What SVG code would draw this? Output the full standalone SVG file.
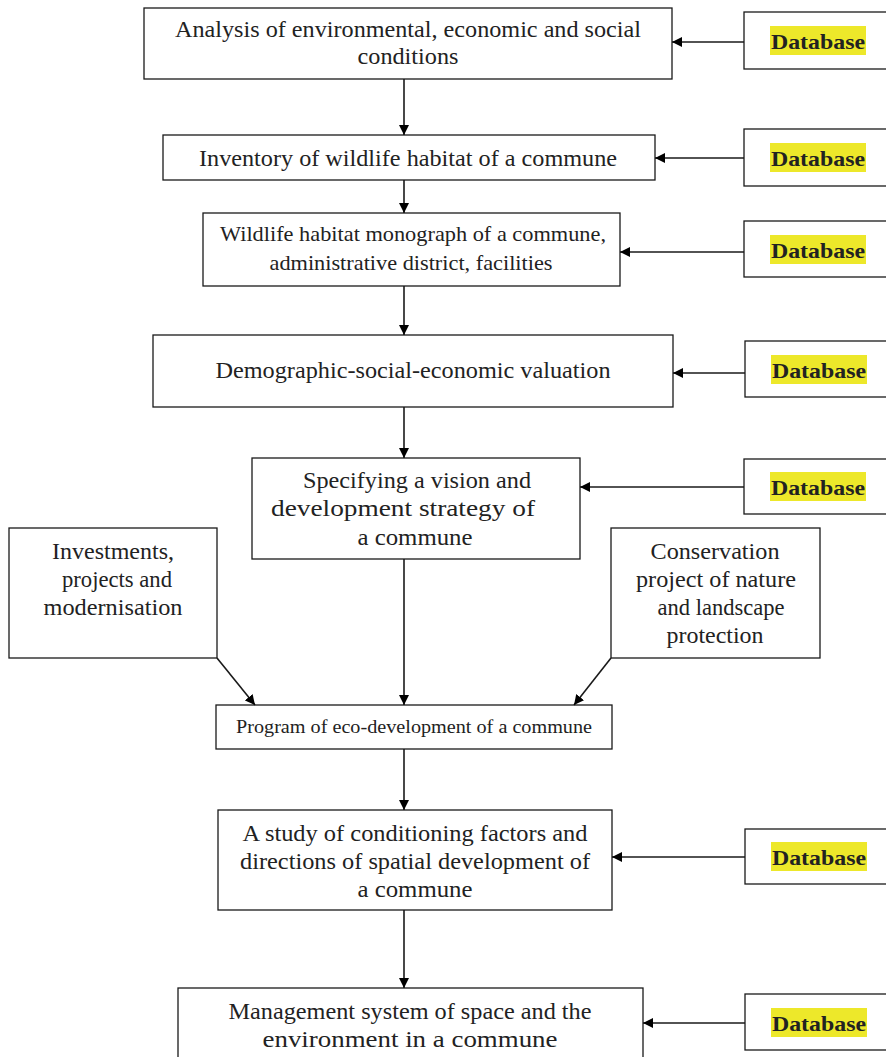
<svg xmlns="http://www.w3.org/2000/svg" width="886" height="1057" viewBox="0 0 886 1057">
<defs>
<marker id="ah" viewBox="0 0 10 10" refX="10" refY="5" markerWidth="10" markerHeight="10" markerUnits="userSpaceOnUse" orient="auto">
<path d="M0,0 L10,5 L0,10 z" fill="#000"/>
</marker>
<style>
.box{fill:#fff;stroke:#1a1a1a;stroke-width:1.3}
.t{font-family:"Liberation Serif","Times New Roman",serif;font-size:24px;fill:#222;text-anchor:middle}
.s{font-size:22px}
.xs{font-size:18px}
.db{font-family:"Liberation Serif","Times New Roman",serif;font-size:22px;font-weight:bold;fill:#222;text-anchor:middle}
.hl{fill:#ede82a}
.c{stroke:#1a1a1a;stroke-width:1.6;fill:none;marker-end:url(#ah)}
</style>
</defs>
<rect width="886" height="1057" fill="#fff"/>
<g id="n1"><rect class="box" x="144" y="8" width="528" height="71"/>
<text class="t" x="408" y="37" textLength="466" lengthAdjust="spacingAndGlyphs">Analysis of environmental, economic and social</text>
<text class="t" x="408" y="64" textLength="101" lengthAdjust="spacingAndGlyphs">conditions</text></g>
<g id="n2"><rect class="box" x="163" y="135" width="492" height="45"/>
<text class="t" x="408" y="166" textLength="418" lengthAdjust="spacingAndGlyphs">Inventory of wildlife habitat of a commune</text></g>
<g id="n3"><rect class="box" x="203" y="213" width="417" height="73"/>
<text class="t s" x="413" y="241" textLength="386" lengthAdjust="spacingAndGlyphs">Wildlife habitat monograph of a commune,</text>
<text class="t s" x="411" y="270" textLength="283" lengthAdjust="spacingAndGlyphs">administrative district, facilities</text></g>
<g id="n4"><rect class="box" x="153" y="335" width="520" height="72"/>
<text class="t" x="413" y="378" textLength="395" lengthAdjust="spacingAndGlyphs">Demographic-social-economic valuation</text></g>
<g id="n5"><rect class="box" x="252" y="458" width="328" height="101"/>
<text class="t" x="417" y="488" textLength="228" lengthAdjust="spacingAndGlyphs">Specifying a vision and</text>
<text class="t" x="403" y="516" textLength="264" lengthAdjust="spacingAndGlyphs">development strategy of</text>
<text class="t" x="415" y="545" textLength="115" lengthAdjust="spacingAndGlyphs">a commune</text></g>
<g id="n6"><rect class="box" x="9" y="528" width="208" height="130"/>
<text class="t" x="113" y="559" textLength="122" lengthAdjust="spacingAndGlyphs">Investments,</text>
<text class="t" x="117" y="587" textLength="110" lengthAdjust="spacingAndGlyphs">projects and</text>
<text class="t" x="113" y="615" textLength="139" lengthAdjust="spacingAndGlyphs">modernisation</text></g>
<g id="n7"><rect class="box" x="611" y="528" width="209" height="130"/>
<text class="t" x="715" y="559" textLength="129" lengthAdjust="spacingAndGlyphs">Conservation</text>
<text class="t" x="716" y="587" textLength="160" lengthAdjust="spacingAndGlyphs">project of nature</text>
<text class="t" x="721" y="615" textLength="127" lengthAdjust="spacingAndGlyphs">and landscape</text>
<text class="t" x="715" y="643" textLength="97" lengthAdjust="spacingAndGlyphs">protection</text></g>
<g id="n8"><rect class="box" x="216" y="705" width="396" height="44"/>
<text class="t xs" x="414" y="733" textLength="356" lengthAdjust="spacingAndGlyphs">Program of eco-development of a commune</text></g>
<g id="n9"><rect class="box" x="218" y="810" width="394" height="100"/>
<text class="t" x="415" y="841" textLength="345" lengthAdjust="spacingAndGlyphs">A study of conditioning factors and</text>
<text class="t" x="415" y="869" textLength="350" lengthAdjust="spacingAndGlyphs">directions of spatial development of</text>
<text class="t" x="415" y="897" textLength="115" lengthAdjust="spacingAndGlyphs">a commune</text></g>
<g id="n10"><rect class="box" x="178" y="988" width="465" height="80"/>
<text class="t" x="410" y="1019" textLength="363" lengthAdjust="spacingAndGlyphs">Management system of space and the</text>
<text class="t" x="410" y="1047" textLength="295" lengthAdjust="spacingAndGlyphs">environment in a commune</text></g>
<g id="db1"><rect class="box" x="744" y="12" width="150" height="57"/><rect class="hl" x="770" y="26" width="96" height="29"/><text class="db" x="818" y="49" textLength="94" lengthAdjust="spacingAndGlyphs">Database</text></g>
<g id="db2"><rect class="box" x="744" y="129" width="150" height="57"/><rect class="hl" x="770" y="143" width="96" height="29"/><text class="db" x="818" y="166" textLength="94" lengthAdjust="spacingAndGlyphs">Database</text></g>
<g id="db3"><rect class="box" x="744" y="221" width="150" height="56"/><rect class="hl" x="770" y="235" width="96" height="29"/><text class="db" x="818" y="258" textLength="94" lengthAdjust="spacingAndGlyphs">Database</text></g>
<g id="db4"><rect class="box" x="745" y="341" width="150" height="56"/><rect class="hl" x="771" y="355" width="96" height="29"/><text class="db" x="819" y="378" textLength="94" lengthAdjust="spacingAndGlyphs">Database</text></g>
<g id="db5"><rect class="box" x="744" y="459" width="150" height="55"/><rect class="hl" x="770" y="472" width="96" height="29"/><text class="db" x="818" y="495" textLength="94" lengthAdjust="spacingAndGlyphs">Database</text></g>
<g id="db6"><rect class="box" x="745" y="829" width="150" height="55"/><rect class="hl" x="771" y="842" width="96" height="29"/><text class="db" x="819" y="865" textLength="94" lengthAdjust="spacingAndGlyphs">Database</text></g>
<g id="db7"><rect class="box" x="745" y="994" width="150" height="56"/><rect class="hl" x="771" y="1008" width="96" height="29"/><text class="db" x="819" y="1031" textLength="94" lengthAdjust="spacingAndGlyphs">Database</text></g>
<g id="connectors">
<line class="c" x1="404" y1="79" x2="404" y2="135"/>
<line class="c" x1="404" y1="180" x2="404" y2="213"/>
<line class="c" x1="404" y1="286" x2="404" y2="335"/>
<line class="c" x1="404" y1="407" x2="404" y2="458"/>
<line class="c" x1="404" y1="559" x2="404" y2="705"/>
<line class="c" x1="404" y1="749" x2="404" y2="810"/>
<line class="c" x1="404" y1="910" x2="404" y2="988"/>
<line class="c" x1="217" y1="658" x2="255" y2="705"/>
<line class="c" x1="611" y1="658" x2="574" y2="705"/>
<line class="c" x1="744" y1="42" x2="672" y2="42"/>
<line class="c" x1="744" y1="158" x2="655" y2="158"/>
<line class="c" x1="744" y1="252" x2="620" y2="252"/>
<line class="c" x1="745" y1="373" x2="673" y2="373"/>
<line class="c" x1="744" y1="487" x2="580" y2="487"/>
<line class="c" x1="745" y1="857" x2="612" y2="857"/>
<line class="c" x1="745" y1="1023" x2="643" y2="1023"/>
</g>
</svg>
